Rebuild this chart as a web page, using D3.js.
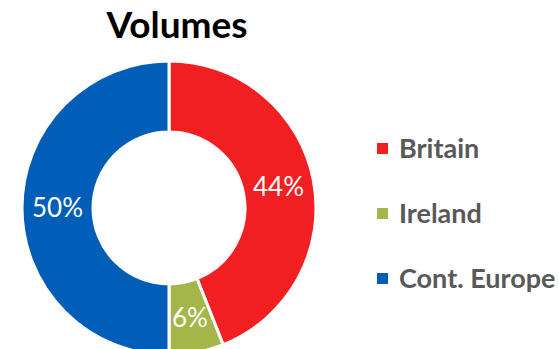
<!DOCTYPE html>
<html>
<head>
<meta charset="utf-8">
<script src="https://cdn.jsdelivr.net/npm/d3@7"></script>
<style>
  html, body { margin: 0; padding: 0; background: #fff; }
  svg { display: block; }
</style>
</head>
<body>
<svg id="chart" width="559" height="349"></svg>
<script>
// Volume share by market
const categories = ["Britain", "Ireland", "Cont. Europe"];
const shares = [44, 6, 50];
const colors = ["#F21F22", "#A4B54A", "#005EB8"];

const svg = d3.select("#chart");
const cx = 169, cy = 208;
const outerR = 147, innerR = 76;

// Title
svg.append("text")
  .attr("x", 177).attr("y", 38)
  .attr("text-anchor", "middle")
  .attr("font-family", "Lato, 'Open Sans', sans-serif")
  .attr("font-weight", "bold")
  .attr("font-size", 37)
  .attr("fill", "#000")
  .text("Volumes");

// Donut
const pie = d3.pie().sort(null).value(d => d);
const arc = d3.arc().innerRadius(innerR).outerRadius(outerR);
const arcs = pie(shares);

const g = svg.append("g").attr("transform", `translate(${cx},${cy})`);

g.selectAll("path.slice")
  .data(arcs)
  .join("path")
  .attr("class", "slice")
  .attr("d", arc)
  .attr("fill", (d, i) => colors[i])
  .attr("stroke", "#fff")
  .attr("stroke-width", 3)
  .attr("stroke-linejoin", "miter");

g.selectAll("text.pct")
  .data(arcs)
  .join("text")
  .attr("class", "pct")
  .attr("transform", d => `translate(${arc.centroid(d)})`)
  .attr("text-anchor", "middle")
  .attr("dy", "0.36em")
  .attr("font-family", "Lato, 'Open Sans', sans-serif")
  .attr("font-size", 26)
  .attr("fill", "#fff")
  .text(d => d.value + "%");

// Legend
const legendY = d3.scalePoint().domain(categories).range([150, 280]);
const legend = svg.append("g");
const items = legend.selectAll("g.item")
  .data(categories)
  .join("g")
  .attr("class", "item")
  .attr("transform", d => `translate(377,${legendY(d)})`);

items.append("rect")
  .attr("x", 0).attr("y", -7)
  .attr("width", 11).attr("height", 11)
  .attr("fill", (d, i) => colors[i]);

items.append("text")
  .attr("x", 22).attr("y", 8)
  .attr("font-family", "Lato, 'Open Sans', sans-serif")
  .attr("font-weight", "bold")
  .attr("font-size", 27)
  .attr("fill", "#595959")
  .text(d => d);
</script>
</body>
</html>
